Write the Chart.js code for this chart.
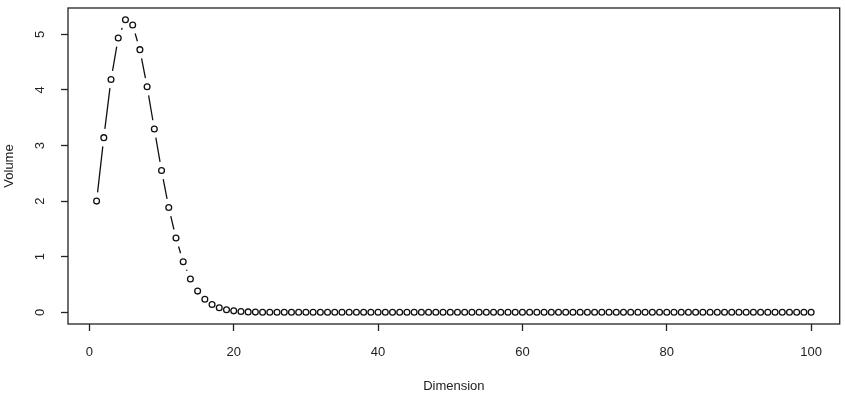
<!DOCTYPE html>
<html lang="en">
<head>
    <meta charset="UTF-8">
    <title>Volume by dimension</title>
    <style>
        body {
            margin: 0;
            padding: 0;
            background-color: #fff;
        }
        #wrap {
            width: 845px;
            height: 407px;
        }
    </style>
    <script src="https://cdn.jsdelivr.net/npm/chart.js"></script>
</head>
<body>
    <div id="wrap">
        <canvas id="volume-chart" width="845" height="407"></canvas>
    </div>
    <script>
        // data (volume of the unit ball per dimension)
        const dimensions = [];
        for (let n = 1; n <= 100; n++) dimensions.push(n);
        const volumes = [
            2.0000, 3.1416, 4.1888, 4.9348, 5.2638, 5.1677, 4.7248, 4.0587, 3.2985, 2.5502,
            1.8841, 1.3353, 0.9106, 0.5993, 0.3814, 0.2353, 0.1410, 0.0821, 0.0466, 0.0258,
            0.0140, 0.0074, 0.0038, 0.0019, 0.0010, 0.0005, 0.0002, 0.0001, 0, 0,
            0, 0, 0, 0, 0, 0, 0, 0, 0, 0,
            0, 0, 0, 0, 0, 0, 0, 0, 0, 0,
            0, 0, 0, 0, 0, 0, 0, 0, 0, 0,
            0, 0, 0, 0, 0, 0, 0, 0, 0, 0,
            0, 0, 0, 0, 0, 0, 0, 0, 0, 0,
            0, 0, 0, 0, 0, 0, 0, 0, 0, 0,
            0, 0, 0, 0, 0, 0, 0, 0, 0, 0
        ];
        const xTicks = [0, 20, 40, 60, 80, 100];
        const yTicks = [0, 1, 2, 3, 4, 5];

        const FONT = 'Liberation Sans, Arial, Helvetica, sans-serif';

        // R style type="b": line segments that stop short of each point
        const gappedLines = {
            id: 'gappedLines',
            beforeDatasetsDraw(chart) {
                const pts = chart.getDatasetMeta(0).data;
                const ctx = chart.ctx;
                const gap = 8.8;
                ctx.save();
                ctx.strokeStyle = '#111';
                ctx.lineWidth = 1.3;
                ctx.beginPath();
                for (let i = 1; i < pts.length; i++) {
                    const a = pts[i - 1], b = pts[i];
                    const dx = b.x - a.x, dy = b.y - a.y;
                    const d = Math.sqrt(dx * dx + dy * dy);
                    if (d <= 2 * gap) continue;
                    const ux = dx / d, uy = dy / d;
                    ctx.moveTo(a.x + ux * gap, a.y + uy * gap);
                    ctx.lineTo(b.x - ux * gap, b.y - uy * gap);
                }
                ctx.stroke();
                ctx.restore();
            }
        };

        // full box round the plot region, and upright y labels like R
        const frame = {
            id: 'frame',
            afterDraw(chart) {
                const ctx = chart.ctx;
                const a = chart.chartArea;
                ctx.save();
                ctx.strokeStyle = '#222';
                ctx.lineWidth = 1.3;
                ctx.strokeRect(a.left, a.top, a.right - a.left, a.bottom - a.top);

                const y = chart.scales.y;
                ctx.fillStyle = '#222';
                ctx.font = '13px ' + FONT;
                ctx.textAlign = 'center';
                ctx.textBaseline = 'middle';
                yTicks.forEach(v => {
                    const py = y.getPixelForValue(v);
                    ctx.save();
                    ctx.translate(40, py);
                    ctx.rotate(-Math.PI / 2);
                    ctx.fillText(String(v), 0, 0);
                    ctx.restore();
                });
                ctx.restore();
            }
        };

        const ctx = document.getElementById('volume-chart').getContext('2d');
        new Chart(ctx, {
            type: 'line',
            data: {
                labels: dimensions,
                datasets: [{
                    data: dimensions.map((d, i) => ({ x: d, y: volumes[i] })),
                    showLine: false,
                    pointStyle: 'circle',
                    pointRadius: 2.9,
                    pointBorderWidth: 1.3,
                    pointBorderColor: '#111',
                    pointBackgroundColor: 'rgba(255,255,255,0)'
                }]
            },
            options: {
                responsive: false,
                devicePixelRatio: 1,
                animation: false,
                layout: { padding: { top: 8, right: 4, left: 0, bottom: 0 } },
                plugins: {
                    legend: { display: false },
                    tooltip: { enabled: false }
                },
                scales: {
                    x: {
                        type: 'linear',
                        min: -2.96,
                        max: 103.96,
                        afterBuildTicks: s => { s.ticks = xTicks.map(v => ({ value: v })); },
                        afterFit: s => { s.height = 83; },
                        grid: {
                            drawOnChartArea: false,
                            drawTicks: true,
                            tickLength: 7,
                            tickColor: '#222',
                            tickWidth: 1.3
                        },
                        border: { display: false },
                        ticks: {
                            color: '#222',
                            font: { family: FONT, size: 13 },
                            padding: 14,
                            maxRotation: 0,
                            autoSkip: false
                        },
                        title: {
                            display: true,
                            text: 'Dimension',
                            color: '#222',
                            font: { family: FONT, size: 13 },
                            padding: { top: 0, bottom: 13 }
                        }
                    },
                    y: {
                        type: 'linear',
                        min: -0.2105,
                        max: 5.474,
                        afterBuildTicks: s => { s.ticks = yTicks.map(v => ({ value: v })); },
                        afterFit: s => { s.width = 68; },
                        grid: {
                            drawOnChartArea: false,
                            drawTicks: true,
                            tickLength: 7,
                            tickColor: '#222',
                            tickWidth: 1.3
                        },
                        border: { display: false },
                        ticks: { display: false },
                        title: {
                            display: true,
                            text: 'Volume',
                            color: '#222',
                            font: { family: FONT, size: 13 },
                            padding: { top: 2, bottom: 0 }
                        }
                    }
                }
            },
            plugins: [gappedLines, frame]
        });
    </script>
</body>
</html>
